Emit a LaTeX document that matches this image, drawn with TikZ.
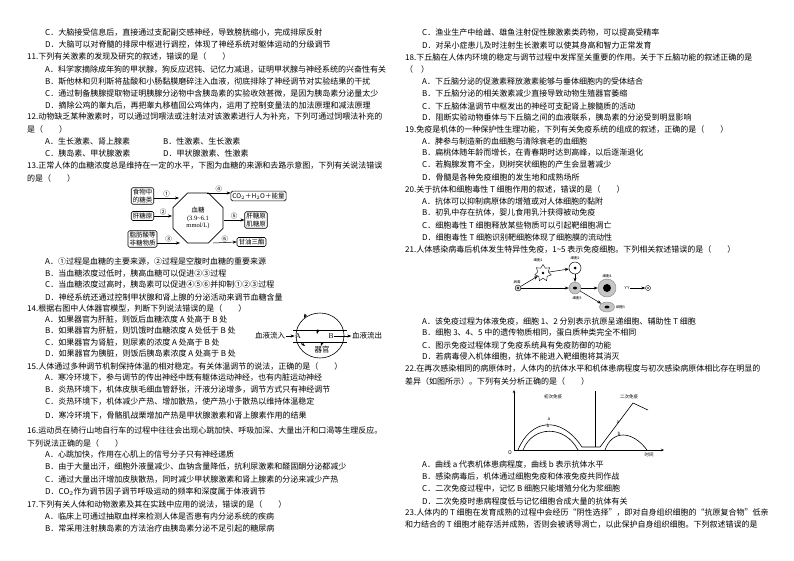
\documentclass[tikz,border=0pt]{standalone}
\usepackage{fontspec}
\setmainfont{Noto Sans CJK SC}
\newfontfamily\serifL{Liberation Serif}
\usetikzlibrary{arrows.meta,shapes.geometric}
\newcounter{tl}
\newcommand\tline[3]{\stepcounter{tl}\node[txt] (t\arabic{tl}) at (#1,#2) {#3};}
\begin{document}
\begin{tikzpicture}[x=1pt,y=-1pt,
  txt/.style={anchor=west,inner sep=0pt,font=\fontsize{8}{9}\selectfont},
  bx/.style={draw,rounded corners=1.5pt,line width=0.6pt,inner sep=1.5pt,align=center,font=\fontsize{6.5}{7.5}\selectfont},
  ar/.style={-{Stealth[length=4pt,width=3pt]},line width=0.5pt},
  sm/.style={font=\fontsize{6.5}{7}\selectfont,inner sep=0.5pt},
  org/.style={font=\fontsize{7.5}{8}\selectfont,inner sep=0.5pt},
  tiny/.style={font=\fontsize{3.5}{4}\selectfont,inner sep=0pt}]
\useasboundingbox (0,0) rectangle (794,560);
\fill[white] (0,0) rectangle (794,560);
% ---------- left column ----------
\def\qx{27}\def\ox{45}
\tline{\ox}{33}{C．大脑接受信息后，直接通过支配副交感神经，导致膀胱缩小，完成排尿反射}
\tline{\ox}{45}{D．大脑可以对脊髓的排尿中枢进行调控，体现了神经系统对躯体运动的分级调节}
\tline{\qx}{57}{11.下列有关激素的发现及研究的叙述，错误的是（\quad\quad）}
\tline{\ox}{70}{A．科学家摘除成年狗的甲状腺，狗反应迟钝、记忆力减退，证明甲状腺与神经系统的兴奋性有关}
\tline{\ox}{82}{B．斯他林和贝利斯将盐酸和小肠黏膜磨碎注入血液，彻底排除了神经调节对实验结果的干扰}
\tline{\ox}{94}{C．通过制备胰腺提取物证明胰腺分泌物中含胰岛素的实验收效甚微，是因为胰岛素分泌量太少}
\tline{\ox}{106}{D．摘除公鸡的睾丸后，再把睾丸移植回公鸡体内，运用了控制变量法的加法原理和减法原理}
\tline{\qx}{117}{12.动物缺乏某种激素时，可以通过饲喂法或注射法对该激素进行人为补充，下列可通过饲喂法补充的}
\tline{\qx}{129}{是（\quad\quad）}
\tline{\ox}{141}{A．生长激素、肾上腺素}
\tline{163}{141}{B．性激素、生长激素}
\tline{\ox}{153}{C．胰岛素、甲状腺激素}
\tline{163}{153}{D．甲状腺激素、性激素}
\tline{\qx}{166}{13.正常人体的血糖浓度总是维持在一定的水平，下图为血糖的来源和去路示意图，下列有关说法错误}
\tline{\qx}{178}{的是（\quad\quad）}
% glucose figure
\node[regular polygon,regular polygon sides=8,draw,line width=0.7pt,minimum size=54pt,inner sep=0pt] (oct) at (198,218) {};
\node[align=center,font=\fontsize{6.5}{7.5}\selectfont] (octt) at (198,218) {血糖\\{\serifL(3.9\textasciitilde6.1}\\{\serifL mmol/L)}};
\node[bx] (food) at (142.5,196) {食物中\\的糖类};
\node[bx] (gly) at (142.5,216) {肝糖原};
\node[bx] (fat) at (142.5,239) {脂肪酸等\\非糖物质};
\node[bx] (co2) at (258.5,196) {CO$_2$＋H$_2$O＋能量};
\node[bx] (liv) at (256,220) {肝糖原\\肌糖原};
\node[bx] (tg) at (251.5,242) {甘油三酯};
\draw[ar] (food.east|-0,198) -- node[above,sm]{①} (179,198);
\draw[ar] (gly.east) -- node[above,sm]{②} (172,216);
\draw[ar] (fat.east|-0,243) -- node[above,sm]{③} (180,243);
\draw[ar] (207,193) -- node[above,sm]{④} (co2.west|-0,193);
\draw[ar] (224,220) -- node[above,sm]{⑤} (liv.west);
\draw[ar] (213,243) -- node[above,sm]{⑥} (tg.west);
\tline{\ox}{262}{A．①过程是血糖的主要来源，②过程是空腹时血糖的重要来源}
\tline{\ox}{274}{B．当血糖浓度过低时，胰高血糖可以促进②③过程}
\tline{\ox}{285}{C．当血糖浓度过高时，胰岛素可以促进④⑤⑥并抑制①②③过程}
\tline{\ox}{297}{D．神经系统还通过控制甲状腺和肾上腺的分泌活动来调节血糖含量}
\tline{\qx}{308}{14.根据右图中人体器官模型，判断下列说法错误的是（\quad\quad）}
\tline{\ox}{320}{A．如果器官为肝脏，则饭后血糖浓度 A 处高于 B 处}
\tline{\ox}{331}{B．如果器官为肝脏，则饥饿时血糖浓度 A 处低于 B 处}
\tline{\ox}{343}{C．如果器官为肾脏，则尿素的浓度 A 处高于 B 处}
\tline{\ox}{354}{D．如果器官为胰脏，则饭后胰岛素浓度 A 处高于 B 处}
% organ figure
\node[draw,ellipse,minimum width=48pt,minimum height=45pt,line width=0.6pt] (org) at (320,335.5) {};
\coordinate (l1a) at (293,330); \coordinate (l1b) at (347,330);
\coordinate (l2a) at (293,342); \coordinate (l2b) at (347,342);
\draw[line width=0.6pt] (l1a) -- (l1b) (l2a) -- (l2b);
\node[org] (bin) at (270,336) {血液流入};
\node[org,font=\serifL\fontsize{7.5}{8}\selectfont] (pa) at (298,336) {A};
\node[org,font=\serifL\fontsize{7.5}{8}\selectfont] (pb) at (331,336) {B};
\node[org] (bout) at (367,336) {血液流出};
\draw[ar] (bin.east) -- (pa.west);
\draw[ar] (pb.east) -- (bout.west);
\node[org] (orgt) at (322,350) {器官};
\coordinate (s1) at (306,314); \coordinate (s1b) at (304,318);
\draw[ar] (s1) -- (s1b);
\coordinate (s2) at (317,334); \coordinate (s2b) at (318,329);
\draw[ar] (s2b) -- (s2);
\coordinate (s3) at (301,343); \coordinate (s3b) at (305,346);
\draw[ar] (s3) -- (s3b);
\coordinate (s4) at (322,343); \coordinate (s4b) at (321,346);
\draw[ar] (s4) -- (s4b);
\tline{\qx}{366}{15.人体通过多种调节机制保持体温的相对稳定。有关体温调节的说法，正确的是（\quad\quad）}
\tline{\ox}{378}{A．寒冷环境下，参与调节的传出神经中既有躯体运动神经，也有内脏运动神经}
\tline{\ox}{390}{B．炎热环境下，机体皮肤毛细血管舒张，汗液分泌增多，调节方式只有神经调节}
\tline{\ox}{402}{C．炎热环境下，机体减少产热、增加散热，使产热小于散热以维持体温稳定}
\tline{\ox}{416}{D．寒冷环境下，骨骼肌战栗增加产热是甲状腺激素和肾上腺素作用的结果}
\tline{\qx}{430}{16.运动员在骑行山地自行车的过程中往往会出现心跳加快、呼吸加深、大量出汗和口渴等生理反应。}
\tline{\qx}{443}{下列说法正确的是（\quad\quad）}
\tline{\ox}{455}{A．心跳加快，作用在心肌上的信号分子只有神经递质}
\tline{\ox}{467}{B．由于大量出汗，细胞外液量减少、血钠含量降低，抗利尿激素和醛固酮分泌都减少}
\tline{\ox}{480}{C．通过大量出汗增加皮肤散热，同时减少甲状腺激素和肾上腺素的分泌来减少产热}
\tline{\ox}{492}{D．CO$_2$作为调节因子调节呼吸运动的频率和深度属于体液调节}
\tline{\qx}{504}{17.下列有关人体和动物激素及其在实践中应用的说法，错误的是（\quad\quad）}
\tline{\ox}{516}{A．临床上可通过抽取血样来检测人体是否患有内分泌系统的疾病}
\tline{\ox}{528}{B．常采用注射胰岛素的方法治疗由胰岛素分泌不足引起的糖尿病}
% ---------- right column ----------
\def\rqx{405}\def\rx{422}
\tline{\rx}{33}{C．渔业生产中给雌、雄鱼注射促性腺激素类药物，可以提高受精率}
\tline{\rx}{45}{D．对呆小症患儿及时注射生长激素可以使其身高和智力正常发育}
\tline{\rqx}{57}{18.下丘脑在人体内环境的稳定与调节过程中发挥至关重要的作用。关于下丘脑功能的叙述正确的是}
\tline{\rqx}{69}{（\quad）}
\tline{\rx}{81}{A．下丘脑分泌的促激素释放激素能够与垂体细胞内的受体结合}
\tline{\rx}{93}{B．下丘脑分泌的相关激素减少直接导致动物生殖器官萎缩}
\tline{\rx}{106}{C．下丘脑体温调节中枢发出的神经可支配肾上腺髓质的活动}
\tline{\rx}{118}{D．阻断实验动物垂体与下丘脑之间的血液联系，胰岛素的分泌受到明显影响}
\tline{\rqx}{129}{19.免疫是机体的一种保护性生理功能，下列有关免疫系统的组成的叙述，正确的是（\quad\quad）}
\tline{\rx}{141}{A．脾参与制造新的血细胞与清除衰老的血细胞}
\tline{\rx}{153}{B．扁桃体随年龄而增长，在青春期时达到高峰，以后逐渐退化}
\tline{\rx}{165}{C．若胸腺发育不全，则树突状细胞的产生会显著减少}
\tline{\rx}{177}{D．骨髓是各种免疫细胞的发生地和成熟场所}
\tline{\rqx}{189}{20.关于抗体和细胞毒性 T 细胞作用的叙述，错误的是（\quad\quad）}
\tline{\rx}{201}{A．抗体可以抑制病原体的增殖或对人体细胞的黏附}
\tline{\rx}{213}{B．初乳中存在抗体，婴儿食用乳汁获得被动免疫}
\tline{\rx}{225}{C．细胞毒性 T 细胞释放某些物质可以引起靶细胞凋亡}
\tline{\rx}{237}{D．细胞毒性 T 细胞识别靶细胞体现了细胞膜的流动性}
\tline{\rqx}{249}{21.人体感染病毒后机体发生特异性免疫，1\textasciitilde5 表示免疫细胞。下列相关叙述错误的是（\quad\quad）}
% immune figure
\node[draw,circle,minimum size=6pt,inner sep=0pt,fill=gray!30,line width=0.4pt] (vir) at (518,288) {};
\fill (vir) circle (1.2pt);
\node[tiny] (virl) at (517,282) {病毒};
\node[draw,star,star points=7,star point ratio=1.6,minimum size=17pt,inner sep=0pt,line width=0.4pt] (c1) at (543,273) {};
\fill (c1) circle (1.3pt);
\node[tiny] (c1l) at (538,260) {细胞1};
\node[draw,circle,minimum size=12pt,inner sep=0pt,line width=0.5pt] (c2) at (575,268) {};
\fill (c2) circle (1.5pt);
\node[tiny] (c2l) at (575,258) {细胞2};
\node[draw,circle,minimum size=12pt,inner sep=0pt,fill=gray!45,draw=gray] (c3) at (575,288) {};
\fill (c3) ellipse (2pt and 1.4pt);
\node[tiny] (c3l) at (577,298) {细胞3};
\node[draw,circle,minimum size=18pt,inner sep=0pt,fill=gray!45,draw=gray] (c4) at (607,288) {};
\fill (c4) circle (4pt);
\node[tiny] (c4l) at (607,276) {细胞4};
\node[draw,ellipse,minimum width=15pt,minimum height=10pt,inner sep=0pt,fill=gray!45,draw=gray] (c5) at (607,307) {};
\fill (c5) ellipse (2.5pt and 1.4pt);
\node[tiny,anchor=west] (c5l) at (616,307) {细胞5};
\node[inner sep=0.5pt,font=\fontsize{4}{4}\selectfont] (ab) at (627,288) {Y\,Y};
\node[draw,circle,minimum size=5pt,inner sep=0pt,line width=0.4pt] (vb) at (648,288) {};
\fill (vb) circle (0.8pt);
\draw[ar] (vir) -- (c1);
\draw[ar] (c1) -- (c2);
\draw[ar] (c2) -- (c3);
\draw[ar] (vir) -- (c3);
\draw[ar] (c3) -- (c4);
\draw[ar] (c3) -- (c5);
\draw[ar] (ab) -- (vb);
\tline{\rx}{322}{A．该免疫过程为体液免疫，细胞 1、2 分别表示抗原呈递细胞、辅助性 T 细胞}
\tline{\rx}{333}{B．细胞 3、4、5 中的遗传物质相同，蛋白质种类完全不相同}
\tline{\rx}{345}{C．图示免疫过程体现了免疫系统具有免疫防御的功能}
\tline{\rx}{357}{D．若病毒侵入机体细胞，抗体不能进入靶细胞将其消灭}
\tline{\rqx}{369}{22.在再次感染相同的病原体时，人体内的抗体水平和机体患病程度与初次感染病原体相比存在明显的}
\tline{\rqx}{381}{差异（如图所示）。下列有关分析正确的是（\quad\quad）}
% graph
\coordinate (O) at (514,450);
\coordinate (ytop) at (514,390);
\coordinate (xend) at (664,450);
\draw[-{Stealth[length=3pt,width=2.5pt]},line width=0.5pt] (O) -- (ytop);
\draw[-{Stealth[length=3pt,width=2.5pt]},line width=0.5pt] (O) -- (xend);
\coordinate (vt) at (595,391); \coordinate (vb2) at (595,447);
\draw[line width=0.5pt] (vt) -- (vb2);
\node[tiny,font=\fontsize{5}{5}\selectfont] (lo) at (510,453) {\itshape O};
\node[tiny,font=\fontsize{4.5}{5}\selectfont] (lt) at (649,455) {时间};
\node[tiny,font=\fontsize{4.5}{5}\selectfont] (l1) at (553,397) {初次免疫};
\node[tiny,font=\fontsize{4.5}{5}\selectfont] (l2) at (629,397) {二次免疫};
\draw[line width=0.6pt] (518,450) .. controls (530,420) and (560,414) .. (582,447) -- (600,447) -- (633,403) -- (648,410);
\draw[line width=0.6pt] (523,450) .. controls (533,425) and (565,425) .. (578,450);
\draw[line width=0.6pt] (605,450) .. controls (612,430) and (632,430) .. (647,450);
\node[tiny,font=\fontsize{4.5}{5}\selectfont\itshape] (la1) at (549,419) {a};
\node[tiny,font=\fontsize{4.5}{5}\selectfont\itshape] (lb1) at (548,426) {b};
\node[tiny,font=\fontsize{4.5}{5}\selectfont\itshape] (la2) at (618,422) {a};
\node[tiny,font=\fontsize{4.5}{5}\selectfont\itshape] (lb2) at (619,434) {b};
\tline{\rx}{465}{A．曲线 a 代表机体患病程度，曲线 b 表示抗体水平}
\tline{\rx}{477}{B．感染病毒后，机体通过细胞免疫和体液免疫共同作战}
\tline{\rx}{489}{C．二次免疫过程中，记忆 B 细胞只能增殖分化为浆细胞}
\tline{\rx}{501}{D．二次免疫时患病程度低与记忆细胞合成大量的抗体有关}
\tline{\rqx}{513}{23.人体内的 T 细胞在发育成熟的过程中会经历“阴性选择”，即对自身组织细胞的“抗原复合物”低亲}
\tline{\rqx}{525}{和力结合的 T 细胞才能存活并成熟，否则会被诱导凋亡，以此保护自身组织细胞。下列叙述错误的是}
\end{tikzpicture}
\end{document}
